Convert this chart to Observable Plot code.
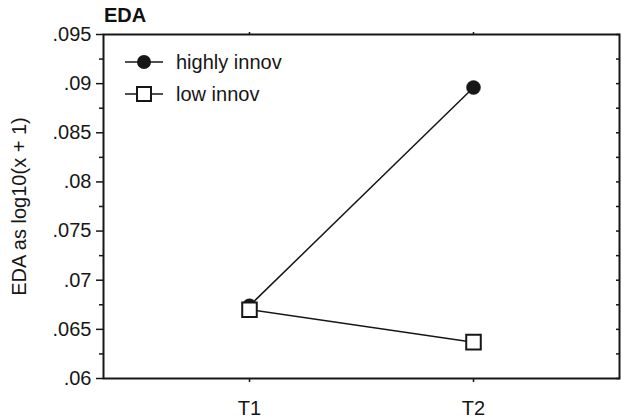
<!DOCTYPE html>
<html><head><meta charset="utf-8">
<script src="https://cdn.jsdelivr.net/npm/d3@7"></script>
<script src="https://cdn.jsdelivr.net/npm/@observablehq/plot@0.6"></script>
<style>
body{margin:0;background:#fff;font-family:"Liberation Sans",Arial,sans-serif}
#wrap{position:relative;width:622px;height:418px}
#title{position:absolute;left:104px;top:5px;font-weight:bold;font-size:20px;line-height:20px;color:#111}
</style></head><body><div id="wrap"><div id="title"></div></div>
<script>
// ---- data ----
const times = ["T1", "T2"];
const seriesNames = ["highly innov", "low innov"];
const highlyInnov = [0.0674, 0.0896];
const lowInnov = [0.0670, 0.0637];
const yMajor = [0.06, 0.065, 0.07, 0.075, 0.08, 0.085, 0.09, 0.095];
const yMajorLabels = [".06", ".065", ".07", ".075", ".08", ".085", ".09", ".095"];
const yMinor = [0.0625, 0.0675, 0.0725, 0.0775, 0.0825, 0.0875, 0.0925];
const yLabel = "EDA as log10(x + 1)";
const titleText = "EDA";

document.getElementById("title").textContent = titleText;

const ink = "#161616";
const highRows = times.map((t, i) => ({time: t, value: highlyInnov[i]}));
const lowRows = times.map((t, i) => ({time: t, value: lowInnov[i]}));

function legend() {
  const g = d3.create("svg:g").attr("font-size", 20).attr("fill", ink).attr("text-anchor", "start");
  const items = [
    {name: seriesNames[0], sym: "circle", y: 62},
    {name: seriesNames[1], sym: "square", y: 94}
  ];
  for (const it of items) {
    g.append("line").attr("x1", 125).attr("x2", 163).attr("y1", it.y).attr("y2", it.y)
      .attr("stroke", ink).attr("stroke-width", 1.5);
    if (it.sym === "circle") {
      g.append("circle").attr("cx", 144).attr("cy", it.y).attr("r", 7).attr("fill", ink);
    } else {
      g.append("rect").attr("x", 137).attr("y", it.y - 7).attr("width", 14).attr("height", 14)
        .attr("fill", "white").attr("stroke", ink).attr("stroke-width", 2);
    }
    g.append("text").attr("x", 176).attr("y", it.y).attr("dy", "0.35em")
      .attr("text-anchor", "start").text(it.name);
  }
  return g.node();
}

const chart = Plot.plot({
  width: 622, height: 418,
  marginLeft: 103, marginRight: 3, marginTop: 34, marginBottom: 40,
  style: {fontFamily: "Liberation Sans, Arial, sans-serif", fontSize: "20px", color: ink, background: "white"},
  x: {type: "point", domain: times, padding: 0.647},
  y: {domain: [0.06, 0.095]},
  marks: [
    Plot.axisY(yMajor, {anchor: "left", tickSize: 7, tickPadding: 5, strokeWidth: 1.5,
      tickFormat: d => yMajorLabels[yMajor.indexOf(d)],
      label: yLabel, labelAnchor: "center", labelArrow: "none", labelOffset: 92}),
    Plot.axisY(yMinor, {anchor: "left", tickSize: 4, strokeWidth: 1.5, tickFormat: () => "", label: null}),
    Plot.axisY([...yMajor, ...yMinor], {anchor: "right", tickSize: 4, dx: -4, strokeWidth: 1.5, tickFormat: () => "", label: null}),
    Plot.axisX({anchor: "bottom", tickSize: 4, tickPadding: 18, strokeWidth: 1.5, label: null}),
    Plot.axisX({anchor: "top", tickSize: 3, strokeWidth: 1.5, tickFormat: () => "", label: null}),
    Plot.frame({stroke: ink, strokeWidth: 2}),
    Plot.line(lowRows, {x: "time", y: "value", stroke: ink, strokeWidth: 1.5}),
    Plot.line(highRows, {x: "time", y: "value", stroke: ink, strokeWidth: 1.5}),
    Plot.dot(highRows, {x: "time", y: "value", r: 7, fill: ink, stroke: ink, strokeWidth: 0.5}),
    Plot.dot(lowRows, {x: "time", y: "value", symbol: "square", r: 8.2, fill: "white", stroke: ink, strokeWidth: 2}),
    legend
  ]
});
document.getElementById("wrap").appendChild(chart);
</script></body></html>
